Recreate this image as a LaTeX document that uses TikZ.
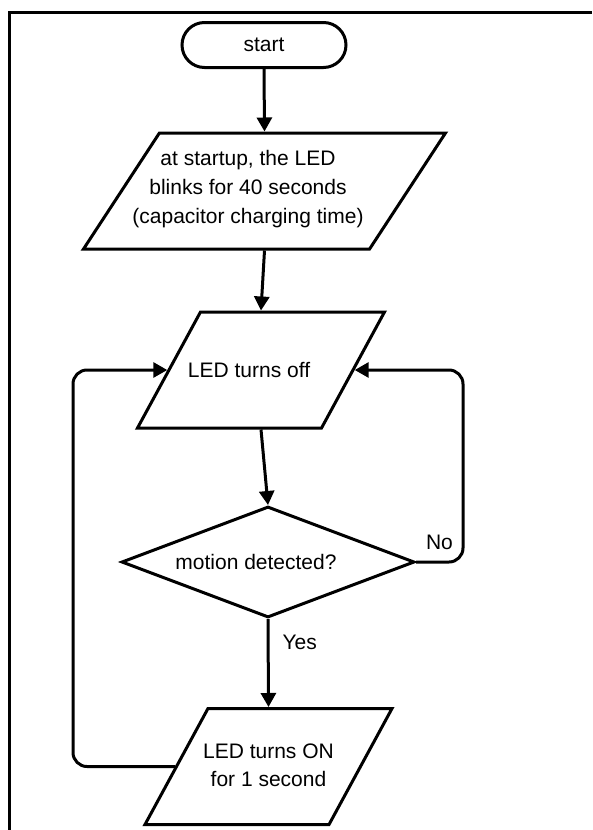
\documentclass[tikz,border=0pt]{standalone}
\usepackage{fontspec}
\setmainfont{Liberation Sans}
\usetikzlibrary{shapes.geometric,arrows.meta}
\begin{document}
\begin{tikzpicture}[x=1pt,y=-1pt,
  lw/.style={line width=3pt},
  txt/.style={font=\fontsize{21}{29}\selectfont, align=center, inner sep=0pt},
  term/.style={lw, draw, rectangle, rounded corners=22.5pt, minimum width=164pt, minimum height=45pt, txt},
  paraA/.style={lw, draw, trapezium, trapezium left angle=56.8, trapezium right angle=123.2, trapezium stretches body, minimum width=362pt, minimum height=116pt, txt},
  paraB/.style={lw, draw, trapezium, trapezium left angle=61.5, trapezium right angle=118.5, trapezium stretches body, minimum width=247pt, minimum height=116pt, txt},
  dec/.style={lw, draw, diamond, shape aspect=2.64, minimum width=293pt, minimum height=111pt, txt},
  conn/.style={lw, -{Triangle[width=15pt,length=14pt]}},
  lab/.style={font=\fontsize{21}{25}\selectfont, inner sep=0pt}
]
\useasboundingbox (0,0) rectangle (592,830);
\draw[line width=2.2pt] (592,12.5) -- (9.5,12.5) -- (9.5,830);

\node[term] (s) at (264,45) {start};
\node[paraA, text height=61.25pt, text depth=54.75pt] (p1) at (264.5,191)
  {\makebox[0pt]{\begin{tabular}{@{}c@{}}at startup, the LED\\blinks for 40 seconds\\(capacitor charging time)\end{tabular}\hspace*{33pt}}};
\node[paraB, text height=65.5pt, text depth=50.5pt] (p2) at (261,370)
  {\makebox[0pt]{LED turns off\hspace*{24pt}}};
\node[dec] (d) at (268,562) {motion detected?\hspace*{24pt}};
\node[paraB, text height=63.25pt, text depth=52.75pt] (p3) at (268.5,766.5)
  {\makebox[0pt]{\begin{tabular}{@{}c@{}}LED turns ON\\[-1.5pt]for 1 second\end{tabular}}};

\coordinate (rc) at (463,470);
\coordinate (lc) at (73,560);

\draw[conn] (s.south) -- (p1.north);
\draw[conn] (p1.south) -- (p2.north);
\draw[conn] (p2.south) -- (d.north);
\draw[conn] (d.south) -- node[lab, pos=0.27, anchor=west, xshift=13pt] {Yes} (p3.north);
\draw[conn, rounded corners=14pt] (d.east) -- node[lab, above=11pt] {No} (d.east -| rc) |- (p2.right side);
\draw[conn, rounded corners=14pt] (p3.left side) -| (lc) |- (p2.left side);
\end{tikzpicture}
\end{document}
